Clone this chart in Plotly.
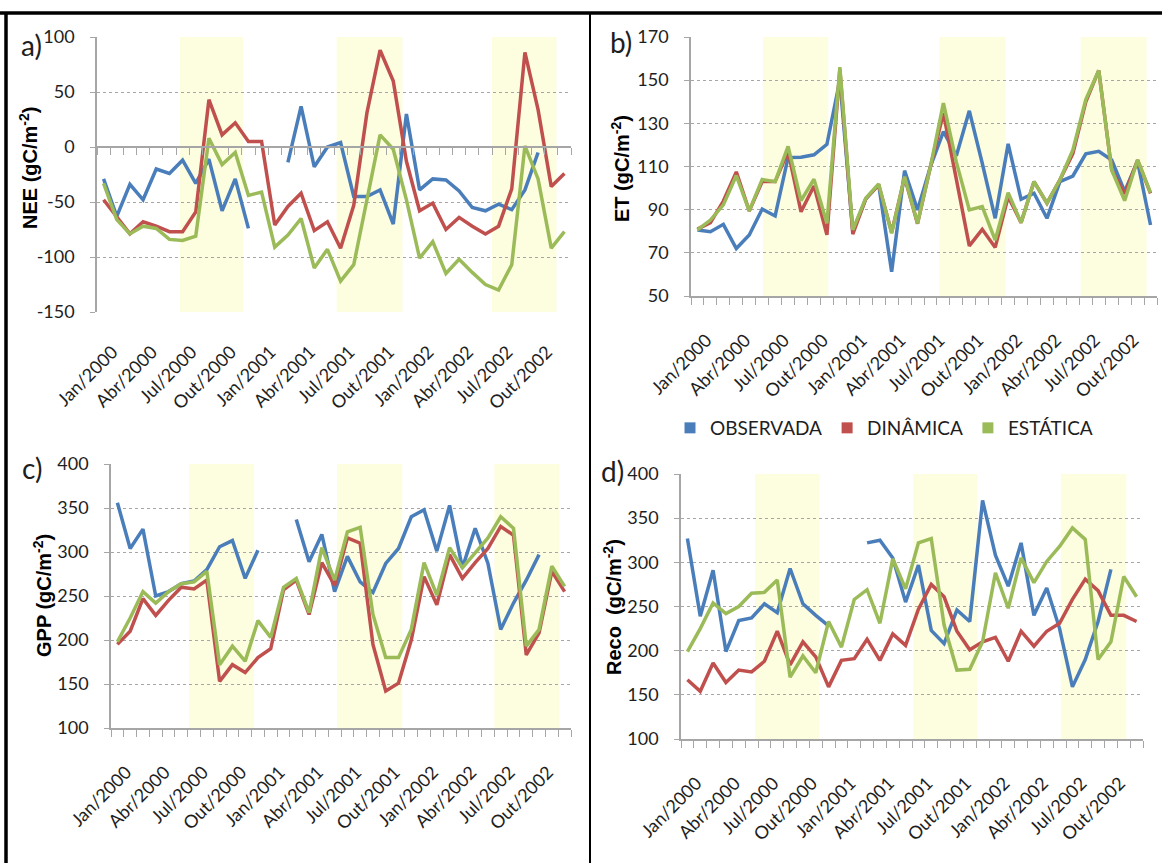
import plotly.graph_objects as go

W, H = 1162, 863

# ---------------- data ----------------
meses = ["Jan", "Fev", "Mar", "Abr", "Mai", "Jun", "Jul", "Ago", "Set", "Out", "Nov", "Dez"]
anos = [2000, 2001, 2002]
categorias = [f"{m}/{a}" for a in anos for m in meses]
x_idx = list(range(len(categorias)))
tick_idx = x_idx[::3]
tick_text = categorias[::3]

series_names = ["OBSERVADA", "DINÂMICA", "ESTÁTICA"]

obs_nee = [-29, -63, -34, -48, -20, -24, -12, -33, -11, -58, -29, -74, None, None, -14, 37, -18, 0,
           4, -45, -45, -39, -70, 30, -39, -29, -30, -40, -55, -58, -52, -57, -39, -5, None, None]
din_nee = [-48, -63, -79, -68, -72, -77, -77, -59, 43, 11, 22, 5, 5, -71, -54, -42, -76, -68,
           -92, -53, 31, 88, 60, -13, -58, -51, -75, -64, -72, -79, -72, -38, 86, 34, -36, -24]
est_nee = [-33, -66, -79, -72, -74, -84, -85, -81, 8, -16, -5, -44, -41, -91, -80, -65, -110, -93,
           -122, -107, -48, 11, -2, -48, -101, -86, -115, -102, -114, -125, -130, -107, 1, -29, -92, -77]

obs_et = [80.6, 79.8, 83.2, 72, 78.3, 90.3, 87.1, 114.2, 114.3, 115.4, 120.3, 150, 80, 95, 101.5, 61.2,
          108.1, 89.9, 110, 126.2, 115, 135.8, 111.5, 86, 120.5, 94.8, 97.6, 86, 103, 105.6, 115.9, 117,
          113, 98.4, 112.3, 82.9]
din_et = [81, 84, 94, 107.5, 89.4, 103, 103, 117, 89, 101, 78.3, 155, 78.7, 95, 101.5, 79.5, 105, 83.5,
          110, 134.7, 104, 73.2, 80.9, 72.5, 96, 84, 103, 93, 103.8, 116, 140, 154.5, 108.4, 97.3, 113, 97.5]
est_et = [80.6, 85.2, 92.2, 105.8, 89.4, 104, 103, 119.3, 94.2, 104.1, 83.7, 156, 80.6, 95.3, 101.9, 79,
          105.3, 83.7, 110, 139.4, 112, 89.9, 91.4, 75.9, 97.9, 84, 103, 93, 103.8, 117.7, 141, 154.5,
          108.4, 94.2, 113, 97.9]

obs_gpp = [356, 304, 326, 250, 255, 264, 267, 280, 306, 313, 270, 302, None, None, 337, 289, 320, 255,
           295, 266, 254, 287, 304, 340, 348, 301, 353, 282, 327, 287, 212, 242, 268, 297, None, None]
din_gpp = [195, 210, 247, 228, 245, 260, 258, 268, 153, 172, 163, 180, 190, 257, 268, 229, 288, 262,
           316, 310, 195, 142, 151, 200, 272, 240, 297, 270, 288, 304, 329, 319, 183, 208, 278, 255]
est_gpp = [198, 225, 255, 242, 255, 264, 266, 278, 172, 193, 176, 222, 203, 260, 270, 231, 305, 268,
           323, 328, 229, 180, 180, 212, 288, 251, 305, 282, 299, 316, 340, 327, 193, 212, 284, 261]

obs_reco = [327, 239, 291, 199, 234, 237, 253, 243, 293, 253, 240, 228, None, None, 322, 325, 305, 255,
            297, 223, 208, 246, 233, 370, 308, 273, 322, 240, 271, 225, 159, 190, 233, 292, None, None]
din_reco = [167, 154, 186, 164, 178, 176, 188, 222, 184, 210, 193, 159, 189, 191, 213, 189, 219, 206,
            247, 275, 261, 222, 201, 210, 215, 188, 222, 205, 222, 231, 258, 281, 268, 240, 240, 233]
est_reco = [199, 225, 254, 242, 250, 265, 266, 280, 170, 194, 175, 233, 204, 258, 269, 231, 304, 270,
            322, 327, 229, 178, 179, 210, 288, 248, 305, 277, 301, 318, 339, 326, 190, 210, 284, 261]

# ---------------- styles / layout ----------------
COLORS = ["#4A7EBB", "#C0504D", "#9BBB59"]
BAND = "#FDFDDF"
GRID = "#A6A6A6"
AXIS = "#A6A6A6"
TXT = "#1E1E1E"
FONT = "Lato"

def px_dom(x0, x1):
    return [x0 / W, x1 / W]

def py_dom(top, bottom):
    return [1 - bottom / H, 1 - top / H]

panels = [
    dict(letter="a)", series=[obs_nee, din_nee, est_nee], title="NEE (gC/m<sup>-2</sup>)",
         xd=px_dom(97, 571), yd=py_dom(37, 312), yr=[-150, 100], dt=50,
         bands=[(5.8, 10.6), (17.7, 22.7), (29.5, 34.4)],
         letter_pos=(31, 45), title_pos=(28, 168), zero_axis=True),
    dict(letter="b)", series=[obs_et, din_et, est_et], title="ET (gC/m<sup>-2</sup>)",
         xd=px_dom(691, 1157), yd=py_dom(37, 296), yr=[50, 170], dt=20,
         bands=[(5.06, 10.1), (18.7, 23.8), (29.6, 34.7)],
         letter_pos=(621, 42), title_pos=(621, 169), zero_axis=False),
    dict(letter="c)", series=[obs_gpp, din_gpp, est_gpp], title="GPP (gC/m<sup>-2</sup>)",
         xd=px_dom(111, 571), yd=py_dom(464, 728), yr=[100, 400], dt=50,
         bands=[(5.6, 10.7), (17.2, 22.3), (29.5, 34.6)],
         letter_pos=(32, 468), title_pos=(42, 596), zero_axis=False),
    dict(letter="d)", series=[obs_reco, din_reco, est_reco], title="Reco  (gC/m<sup>-2</sup>)",
         xd=px_dom(681, 1143), yd=py_dom(474, 739), yr=[100, 400], dt=50,
         bands=[(5.27, 10.3), (17.6, 22.6), (29.1, 34.2)],
         letter_pos=(612, 471), title_pos=(612, 607), zero_axis=False),
]

fig = go.Figure()
layout = dict(template="none", width=W, height=H, margin=dict(l=0, r=0, t=0, b=0, autoexpand=False),
              paper_bgcolor="white", plot_bgcolor="white", showlegend=True)
shapes = []
annotations = []
minor_vals = [i - 0.5 for i in range(len(categorias) + 1)]
xrange_ = [-0.5, len(categorias) - 0.5]

for k, p in enumerate(panels):
    n = "" if k == 0 else str(k + 1)
    xa, ya = "x" + n, "y" + n
    for s, vals in enumerate(p["series"]):
        fig.add_trace(go.Scatter(x=x_idx, y=vals, mode="lines", name=series_names[s],
                                 line=dict(color=COLORS[s], width=3.5),
                                 xaxis=xa, yaxis=ya, showlegend=False, connectgaps=False,
                                 hoverinfo="x+y"))
    lo, hi = p["yr"]
    yt = list(range(lo, hi + 1, p["dt"]))
    layout["xaxis" + n] = dict(
        domain=p["xd"], anchor=ya, range=xrange_, tickmode="array", tickvals=tick_idx,
        ticktext=tick_text, tickangle=-45, ticks="", showgrid=False, zeroline=False,
        showline=not p["zero_axis"], linecolor=AXIS, linewidth=1.5, automargin=False,
        tickfont=dict(family=FONT, size=18, color=TXT), ticklabelstandoff=25,
        ticklabelshift=9,
        minor=dict(tickvals=minor_vals, ticks=("" if p["zero_axis"] else "outside"),
                   ticklen=7, tickcolor=AXIS, showgrid=False),
        fixedrange=True)
    layout["yaxis" + n] = dict(
        domain=p["yd"], anchor=xa, range=p["yr"], tickmode="array", tickvals=yt,
        ticktext=[str(v) for v in yt],
        showgrid=True, gridcolor=GRID, griddash="dot", gridwidth=1, zeroline=False,
        showline=True, linecolor=AXIS, linewidth=1.5, ticks="outside", ticklen=5,
        tickcolor=AXIS, ticklabelstandoff=12, automargin=False,
        tickfont=dict(family=FONT, size=18, color=TXT), fixedrange=True)
    for (b0, b1) in p["bands"]:
        shapes.append(dict(type="rect", xref=xa, yref=ya + " domain", x0=b0, x1=b1, y0=0, y1=1,
                           fillcolor=BAND, line=dict(width=0), layer="below"))
    lx, ly = p["letter_pos"]
    annotations.append(dict(text=p["letter"], x=lx / W, y=1 - ly / H, xref="paper", yref="paper",
                            showarrow=False, xanchor="center", yanchor="middle",
                            font=dict(family=FONT, size=28, color=TXT)))
    tx, ty = p["title_pos"]
    annotations.append(dict(text="<b>" + p["title"] + "</b>", x=tx / W, y=1 - ty / H,
                            xref="paper", yref="paper", showarrow=False, textangle=-90,
                            xanchor="center", yanchor="middle",
                            font=dict(family="Liberation Sans", size=20, color="black")))
    if p["zero_axis"]:
        # horizontal axis crossing at 0, with category tick marks
        y0, y1 = p["yd"]
        zpos = y0 + (0 - lo) / (hi - lo) * (y1 - y0)
        layout["xaxis5"] = dict(
            overlaying=xa, anchor="free", position=zpos, side="bottom", range=xrange_,
            showline=True, linecolor=AXIS, linewidth=1.5, showgrid=False, zeroline=False,
            showticklabels=False, ticks="", tickmode="array", tickvals=tick_idx, automargin=False,
            minor=dict(tickvals=minor_vals, ticks="outside", ticklen=7, tickcolor=AXIS,
                       showgrid=False),
            fixedrange=True)
        fig.add_trace(go.Scatter(x=[None], y=[None], xaxis="x5", yaxis=ya, mode="lines",
                                 showlegend=False, hoverinfo="skip"))

# legend entries (square markers like the original)
for s in range(3):
    fig.add_trace(go.Scatter(x=[None], y=[None], mode="markers", name=series_names[s],
                             marker=dict(symbol="square", size=11, color=COLORS[s]),
                             xaxis="x2", yaxis="y2", showlegend=True))

layout["legend"] = dict(orientation="h", x=884 / W, xanchor="center", y=1 - 428 / H,
                        yanchor="middle", font=dict(family=FONT, size=19, color=TXT),
                        bgcolor="rgba(0,0,0,0)", itemwidth=30, tracegroupgap=0)

# frame lines
shapes += [
    dict(type="line", xref="paper", yref="paper", x0=0, x1=1, y0=1 - 13 / H, y1=1 - 13 / H,
         line=dict(color="black", width=3.5)),
    dict(type="line", xref="paper", yref="paper", x0=6 / W, x1=6 / W, y0=0, y1=1 - 13 / H,
         line=dict(color="black", width=3.5)),
    dict(type="line", xref="paper", yref="paper", x0=590 / W, x1=590 / W, y0=0, y1=1 - 13 / H,
         line=dict(color="black", width=2)),
]
layout["shapes"] = shapes
layout["annotations"] = annotations
fig.update_layout(**layout)

fig.write_html("out.html")
